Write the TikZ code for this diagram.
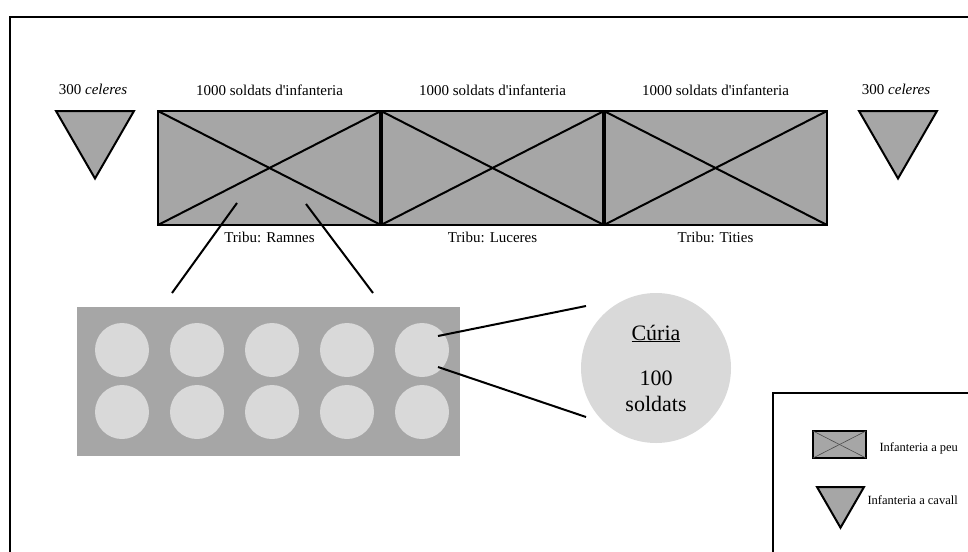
\documentclass[tikz,border=0pt]{standalone}
\usepackage{fontspec}
\setmainfont{Liberation Serif}
\usepackage{tikz}
\usetikzlibrary{shapes,positioning}

\definecolor{unitgray}{RGB}{166,166,166}
\definecolor{curiagray}{RGB}{217,217,217}

\begin{document}
\begin{tikzpicture}[x=1pt, y=-1pt,
  font=\fontsize{15}{18}\selectfont,
  tribe/.style={draw, line width=2.2pt, fill=unitgray, minimum width=223pt, minimum height=114pt, inner sep=0pt, outer sep=0pt},
  cavalry/.style={draw, line width=2pt, fill=unitgray, regular polygon, regular polygon sides=3, shape border rotate=180, minimum size=90pt, inner sep=0pt, outer sep=0pt},
  curia/.style={circle, fill=curiagray, minimum size=54pt, inner sep=0pt},
  cross/.style={line width=2pt},
  link/.style={draw, line width=2pt},
  legend/.style={font=\fontsize{12.5}{15}\selectfont, anchor=west},
  ]

  \clip (0,0) rectangle (968,551);
  \draw[line width=2pt] (10,570) |- (990,17);

  % the three tribes
  \node[tribe] (ramnes) at (269.5,168) {};
  \node[tribe, right=0pt of ramnes] (luceres) {};
  \node[tribe, right=0pt of luceres] (tities) {};
  \foreach \t in {ramnes,luceres,tities} {
    \draw[cross] (\t.north west) -- (\t.south east);
    \draw[cross] (\t.south west) -- (\t.north east);
    \node[above=12pt of \t] {1000 soldats d\textquotesingle infanteria};
  }
  \draw[line width=3.2pt] (luceres.north west) -- (luceres.south west);
  \draw[line width=3.2pt] (tities.north west) -- (tities.south west);
  \node[below=4pt of ramnes] {Tribu: Ramnes};
  \node[below=4pt of luceres] {Tribu: Luceres};
  \node[below=4pt of tities] {Tribu: Tities};

  % cavalry
  \node[cavalry] (cavL) at (95,133.5) {};
  \node[cavalry] (cavR) at (898,133.5) {};
  \node at (93,89) {300 \textit{celeres}};
  \node at (896,89) {300 \textit{celeres}};

  % ten curiae
  \node[fill=unitgray, minimum width=383pt, minimum height=149pt, inner sep=0pt] (curiae) at (268.5,381.5) {};
  \foreach \i in {1,...,5} {
    \node[curia] (c\i a) at ({47+75*\i},350) {};
    \node[curia] (c\i b) at ({47+75*\i},412) {};
  }

  \node[curia, minimum size=150pt, align=center, font=\fontsize{22}{26}\selectfont] (curia) at (656,368)
    {\underline{Cúria}\\[19pt]100\\soldats};

  % connectors
  \coordinate (ramnesL) at (237,203);
  \coordinate (ramnesR) at (306,204);
  \coordinate (curiaeL) at (172,293);
  \coordinate (curiaeR) at (373,293);
  \coordinate (c5top) at (438,336);
  \coordinate (c5bot) at (438,367);
  \coordinate (curiaT) at (586,306);
  \coordinate (curiaB) at (586,417);
  \draw[link] (ramnesL) -- (curiaeL);
  \draw[link] (ramnesR) -- (curiaeR);
  \draw[link] (c5top) -- (curiaT);
  \draw[link] (c5bot) -- (curiaB);

  % legend
  \draw[line width=2pt] (773,570) |- (990,393);
  \node[draw, line width=2pt, fill=unitgray, minimum width=53pt, minimum height=27pt, inner sep=0pt, outer sep=0pt] (legFoot) at (839.5,444.5) {};
  \draw[gray!60!black, line width=0.6pt] (legFoot.north west) -- (legFoot.south east);
  \draw[gray!60!black, line width=0.6pt] (legFoot.south west) -- (legFoot.north east);
  \node[cavalry, minimum size=54pt] (legCav) at (840.5,500.7) {};
  \node[legend] at (876,448) {Infanteria a peu};
  \node[legend] at (864,500) {Infanteria a cavall};
\end{tikzpicture}
\end{document}
